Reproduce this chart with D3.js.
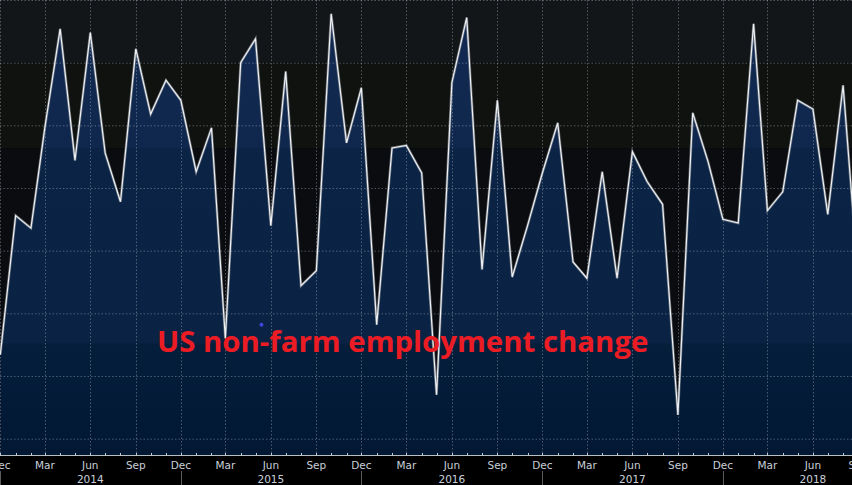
<!DOCTYPE html>
<html>
<head>
<meta charset="utf-8">
<script src="https://cdn.jsdelivr.net/npm/d3@7"></script>
<style>
  html, body { margin: 0; padding: 0; background: #000; }
  svg { display: block; }
</style>
</head>
<body>
<svg id="chart" width="852" height="485"></svg>
<script>
// ---- data (thousands of jobs, monthly, starting Dec 2013) ----
const startMonth = "2013-12-01";
const values = [
  67, 178, 168, 248, 327, 222, 324, 228, 189, 311, 259, 286,
  270, 213, 248, 80, 300, 319, 170, 293, 122, 134, 339, 236,
  280, 91, 232, 234, 212, 35, 284, 336, 135, 270, 129, 170,
  212, 252, 141, 128, 213, 128, 229, 205, 187, 19, 260, 221,
  175, 172, 331, 182, 197, 270, 263, 179, 282, 125
];
const quarterLabels = ["Dec","Mar","Jun","Sep"];
const yearLabels = ["2014","2015","2016","2017","2018"];
const gridValues = [0, 50, 100, 150, 200, 250, 300, 350];
const title = "US non-farm employment change";

// ---- layout ----
const W = 852, H = 485;
const plotTop = 0, plotBottom = 455;
const svg = d3.select("#chart");

const t0 = d3.timeParse("%Y-%m-%d")(startMonth);
const dates = values.map((v, i) => d3.timeMonth.offset(t0, i));
const data = values.map((v, i) => ({ date: dates[i], value: v }));

const tEnd = d3.timeDay.offset(t0, 1722.6);
const x = d3.scaleTime().domain([t0, tEnd]).range([0.3, W]);
const y = d3.scaleLinear().domain([0, 350]).range([438.7, 0]);
const yMin = y.invert(plotBottom);

const defs = svg.append("defs");
const clip = defs.append("clipPath").attr("id", "plotclip");
clip.append("rect").attr("x", 0).attr("y", plotTop).attr("width", W).attr("height", plotBottom - plotTop);

// background shading bands
const bgBands = [
  { from: 350, to: 300, color: "#131619" },
  { from: 300, to: 231.5, color: "#101210" },
  { from: 231.5, to: yMin, color: "#0a0c0f" }
];
svg.append("g").selectAll("rect").data(bgBands).join("rect")
  .attr("x", 0).attr("width", W)
  .attr("y", d => y(d.from))
  .attr("height", d => y(d.to) - y(d.from))
  .attr("fill", d => d.color);

// area gradient
const grad = defs.append("linearGradient").attr("id", "areaGrad")
  .attr("gradientUnits", "userSpaceOnUse")
  .attr("x1", 0).attr("x2", 0).attr("y1", 0).attr("y2", plotBottom);
const stops = [
  [0, "#122a52"], [148, "#10274d"], [148.5, "#0b2446"], [343, "#0a2243"],
  [344, "#041e3c"], [455, "#021833"]
];
stops.forEach(s => grad.append("stop").attr("offset", s[0] / plotBottom).attr("stop-color", s[1]));

const area = d3.area()
  .x(d => x(d.date))
  .y0(y(yMin))
  .y1(d => y(d.value));
const line = d3.line()
  .x(d => x(d.date))
  .y(d => y(d.value));

const plot = svg.append("g").attr("clip-path", "url(#plotclip)");
plot.append("path").datum(data).attr("d", area).attr("fill", "url(#areaGrad)");

// gridlines
const gridColor = "rgba(190,200,210,0.38)";
plot.append("g").selectAll("line").data(gridValues).join("line")
  .attr("x1", 0).attr("x2", W)
  .attr("y1", d => y(d) + 0.5).attr("y2", d => y(d) + 0.5)
  .attr("stroke", gridColor).attr("stroke-width", 1).attr("stroke-dasharray", "1.5,2");
const qt = d3.timeMonth.range(t0, d3.timeMonth.offset(tEnd, 1)).filter((d, i) => i % 3 === 0);
plot.append("g").selectAll("line").data(qt).join("line")
  .attr("x1", d => Math.round(x(d)) + 0.5).attr("x2", d => Math.round(x(d)) + 0.5)
  .attr("y1", plotTop).attr("y2", plotBottom)
  .attr("stroke", gridColor).attr("stroke-width", 1).attr("stroke-dasharray", "1.5,2");

// line
plot.append("path").datum(data).attr("d", line)
  .attr("fill", "none").attr("stroke", "#8d949c").attr("stroke-width", 2.6)
  .attr("stroke-linejoin", "miter").attr("stroke-opacity", 0.6);
plot.append("path").datum(data).attr("d", line)
  .attr("fill", "none").attr("stroke", "#eef0f2").attr("stroke-width", 1.2)
  .attr("stroke-linejoin", "miter");

// stray marker dot
plot.append("circle")
  .attr("cx", x(d3.timeDay.offset(t0, 528))).attr("cy", y(91))
  .attr("r", 2).attr("fill", "#3d45e0");

// title
svg.append("text")
  .attr("x", 157).attr("y", 351.5)
  .attr("font-family", "'Open Sans', 'Noto Sans', sans-serif")
  .attr("font-weight", "bold").attr("font-size", 29.4)
  .attr("fill", "#ec1c24")
  .text(title);

// x axis
const axisG = svg.append("g");
axisG.append("rect").attr("x", 0).attr("y", plotBottom).attr("width", W).attr("height", H - plotBottom).attr("fill", "#000");
axisG.append("line").attr("x1", 0).attr("x2", W).attr("y1", plotBottom + 0.5).attr("y2", plotBottom + 0.5)
  .attr("stroke", "#b9bec4").attr("stroke-width", 1);
const allMonths = d3.timeMonth.range(t0, d3.timeMonth.offset(tEnd, 1));
axisG.append("g").selectAll("line").data(allMonths).join("line")
  .attr("x1", d => Math.round(x(d)) + 0.5).attr("x2", d => Math.round(x(d)) + 0.5)
  .attr("y1", plotBottom - 2).attr("y2", plotBottom + 0.5)
  .attr("stroke", "#c8ccd0").attr("stroke-width", 1);

axisG.append("g").selectAll("text").data(qt).join("text")
  .attr("x", d => x(d)).attr("y", 469)
  .attr("text-anchor", "middle")
  .attr("font-family", "'DejaVu Sans', sans-serif").attr("font-size", 10.5)
  .attr("fill", "#c9d0da")
  .text((d, i) => quarterLabels[i % 4]);

// year separators and labels
const yearStarts = qt.filter((d, i) => i % 4 === 0);
axisG.append("g").selectAll("line").data(yearStarts).join("line")
  .attr("x1", d => Math.round(x(d)) + 0.5).attr("x2", d => Math.round(x(d)) + 0.5)
  .attr("y1", 471).attr("y2", H)
  .attr("stroke", "#5a5d60").attr("stroke-width", 1);
axisG.append("g").selectAll("text").data(yearStarts).join("text")
  .attr("x", d => x(d3.timeMonth.offset(d, 6)))
  .attr("y", 482.5)
  .attr("text-anchor", "middle")
  .attr("font-family", "'DejaVu Sans', sans-serif").attr("font-size", 10.5)
  .attr("fill", "#c9d0da")
  .text((d, i) => yearLabels[i]);
</script>
</body>
</html>
